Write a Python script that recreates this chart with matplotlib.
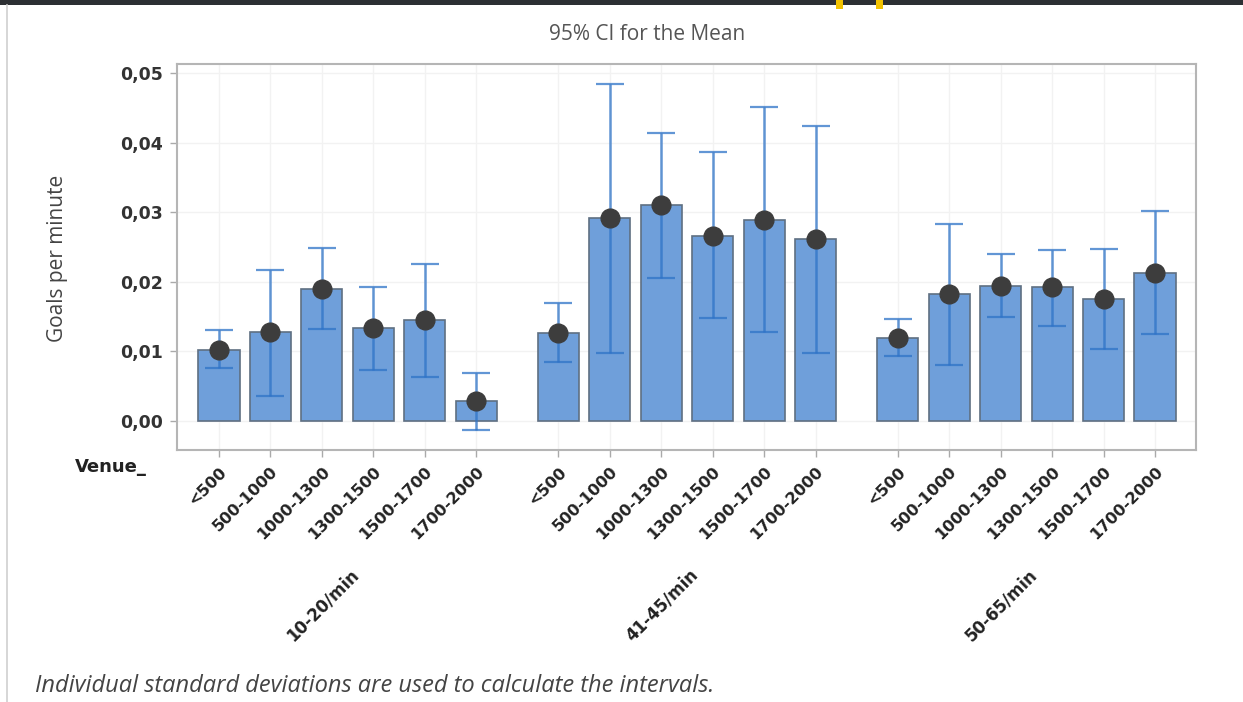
import numpy as np
import matplotlib.pyplot as plt
from matplotlib.patches import Rectangle
from matplotlib.lines import Line2D

# venue size bands and time windows
venues = ["<500", "500-1000", "1000-1300", "1300-1500", "1500-1700", "1700-2000"]
windows = ["10-20/min", "41-45/min", "50-65/min"]

# mean goals per minute, one list per window
mean_10_20 = [0.0102, 0.0127, 0.0189, 0.0133, 0.0145, 0.0029]
mean_41_45 = [0.0126, 0.0291, 0.0310, 0.0266, 0.0289, 0.0261]
mean_50_65 = [0.0119, 0.0182, 0.0194, 0.0192, 0.0175, 0.0212]

# 95% CI bounds
lo_10_20 = [0.0076, 0.0036, 0.0132, 0.0073, 0.0063, -0.0013]
hi_10_20 = [0.0130, 0.0217, 0.0249, 0.0193, 0.0226, 0.0069]
lo_41_45 = [0.0084, 0.0098, 0.0206, 0.0148, 0.0128, 0.0098]
hi_41_45 = [0.0170, 0.0484, 0.0414, 0.0386, 0.0451, 0.0424]
lo_50_65 = [0.0093, 0.0080, 0.0149, 0.0136, 0.0103, 0.0125]
hi_50_65 = [0.0146, 0.0283, 0.0240, 0.0246, 0.0247, 0.0302]

y_ticks = [0.00, 0.01, 0.02, 0.03, 0.04, 0.05]

means = [mean_10_20, mean_41_45, mean_50_65]
lows = [lo_10_20, lo_41_45, lo_50_65]
highs = [hi_10_20, hi_41_45, hi_50_65]

bar_col = "#6f9fda"
edge_col = "#5f6f82"
err_col = (0.18, 0.45, 0.78, 0.75)  # translucent so it reads darker over the bars
dot_col = "#3d3d3d"
ui_font = ["Open Sans", "DejaVu Sans"]
bold_font = ["DejaVu Sans"]

fig = plt.figure(figsize=(12.43, 7.02), dpi=100)
fig.patch.set_facecolor("white")
ax = fig.add_axes([177 / 1243, 1 - 450 / 702, (1196 - 177) / 1243, (450 - 64) / 702])

group_step = len(venues) + 0.6
xs_all, labels_all = [], []
for g, win in enumerate(windows):
    xs = np.arange(len(venues)) + g * group_step
    m = np.array(means[g])
    lo = np.array(lows[g])
    hi = np.array(highs[g])
    ax.bar(xs, m, width=0.8, color=bar_col, edgecolor=edge_col, linewidth=1.2, zorder=2)
    ax.errorbar(xs, m, yerr=[m - lo, hi - m], fmt="none", ecolor=err_col,
                elinewidth=1.8, capsize=10, capthick=1.6, zorder=3)
    ax.plot(xs, m, "o", color=dot_col, markersize=13.5, zorder=4)
    xs_all += list(xs)
    labels_all += venues
    # window label under each group
    ax.annotate(win, xy=(xs.mean(), 0), xycoords=("data", "axes fraction"),
                xytext=(2, -116), textcoords="offset pixels", rotation=45,
                rotation_mode="anchor", ha="right", va="top",
                fontsize=12, fontweight="bold", color="#222222",
                family=bold_font)

ax.set_xlim(-0.816, 18.996)
ax.set_ylim(-0.0042, 0.0513)
ax.set_yticks(y_ticks)
ax.set_yticklabels([f"{v:.2f}".replace(".", ",") for v in y_ticks],
                   fontsize=12.5, fontweight="bold", color="#333333", family=bold_font)
ax.set_xticks(xs_all)
ax.set_xticklabels(labels_all, rotation=45, ha="right", rotation_mode="anchor",
                   fontsize=11.5, fontweight="bold", color="#222222", family=bold_font)
ax.tick_params(axis="both", direction="out", length=5, color="#aaaaaa", width=1)
ax.tick_params(axis="x", pad=5)
ax.tick_params(axis="y", pad=5)

ax.grid(True, color="#f2f2f2", linewidth=1, zorder=0)
ax.set_axisbelow(True)
for side in ax.spines.values():
    side.set_color("#b5b5b5")
    side.set_linewidth(1.5)

fig.text(58 / 1243, 1 - 258 / 702, "Goals per minute", rotation=90, ha="center",
         va="center", fontsize=15, color="#444444", family=ui_font)
fig.text(647 / 1243, 1 - 35 / 702, "95% CI for the Mean", ha="center", va="center",
         fontsize=15, color="#555555", family=ui_font)
fig.text(75 / 1243, 1 - 467 / 702, "Venue_", ha="left", va="center",
         fontsize=13, fontweight="bold", color="#222222", family=bold_font)
fig.text(35 / 1243, 1 - 686 / 702,
         "Individual standard deviations are used to calculate the intervals.",
         ha="left", va="center", fontsize=17, style="italic", color="#444444",
         family=ui_font)

# window chrome: dark strip at top, thin border on the left
fig.patches.append(Rectangle((0, 1 - 5 / 702), 1, 5 / 702, transform=fig.transFigure,
                             facecolor="#2c2f33", edgecolor="none"))
for x0 in (836, 876):
    fig.patches.append(Rectangle((x0 / 1243, 1 - 9 / 702), 7 / 1243, 9 / 702,
                                 transform=fig.transFigure, facecolor="#f2c200",
                                 edgecolor="none"))
fig.lines.append(Line2D([7 / 1243, 7 / 1243], [0, 1 - 5 / 702], transform=fig.transFigure,
                        color="#d0d0d0", linewidth=1.2))

fig.savefig("out.png", dpi=100, facecolor="white")
